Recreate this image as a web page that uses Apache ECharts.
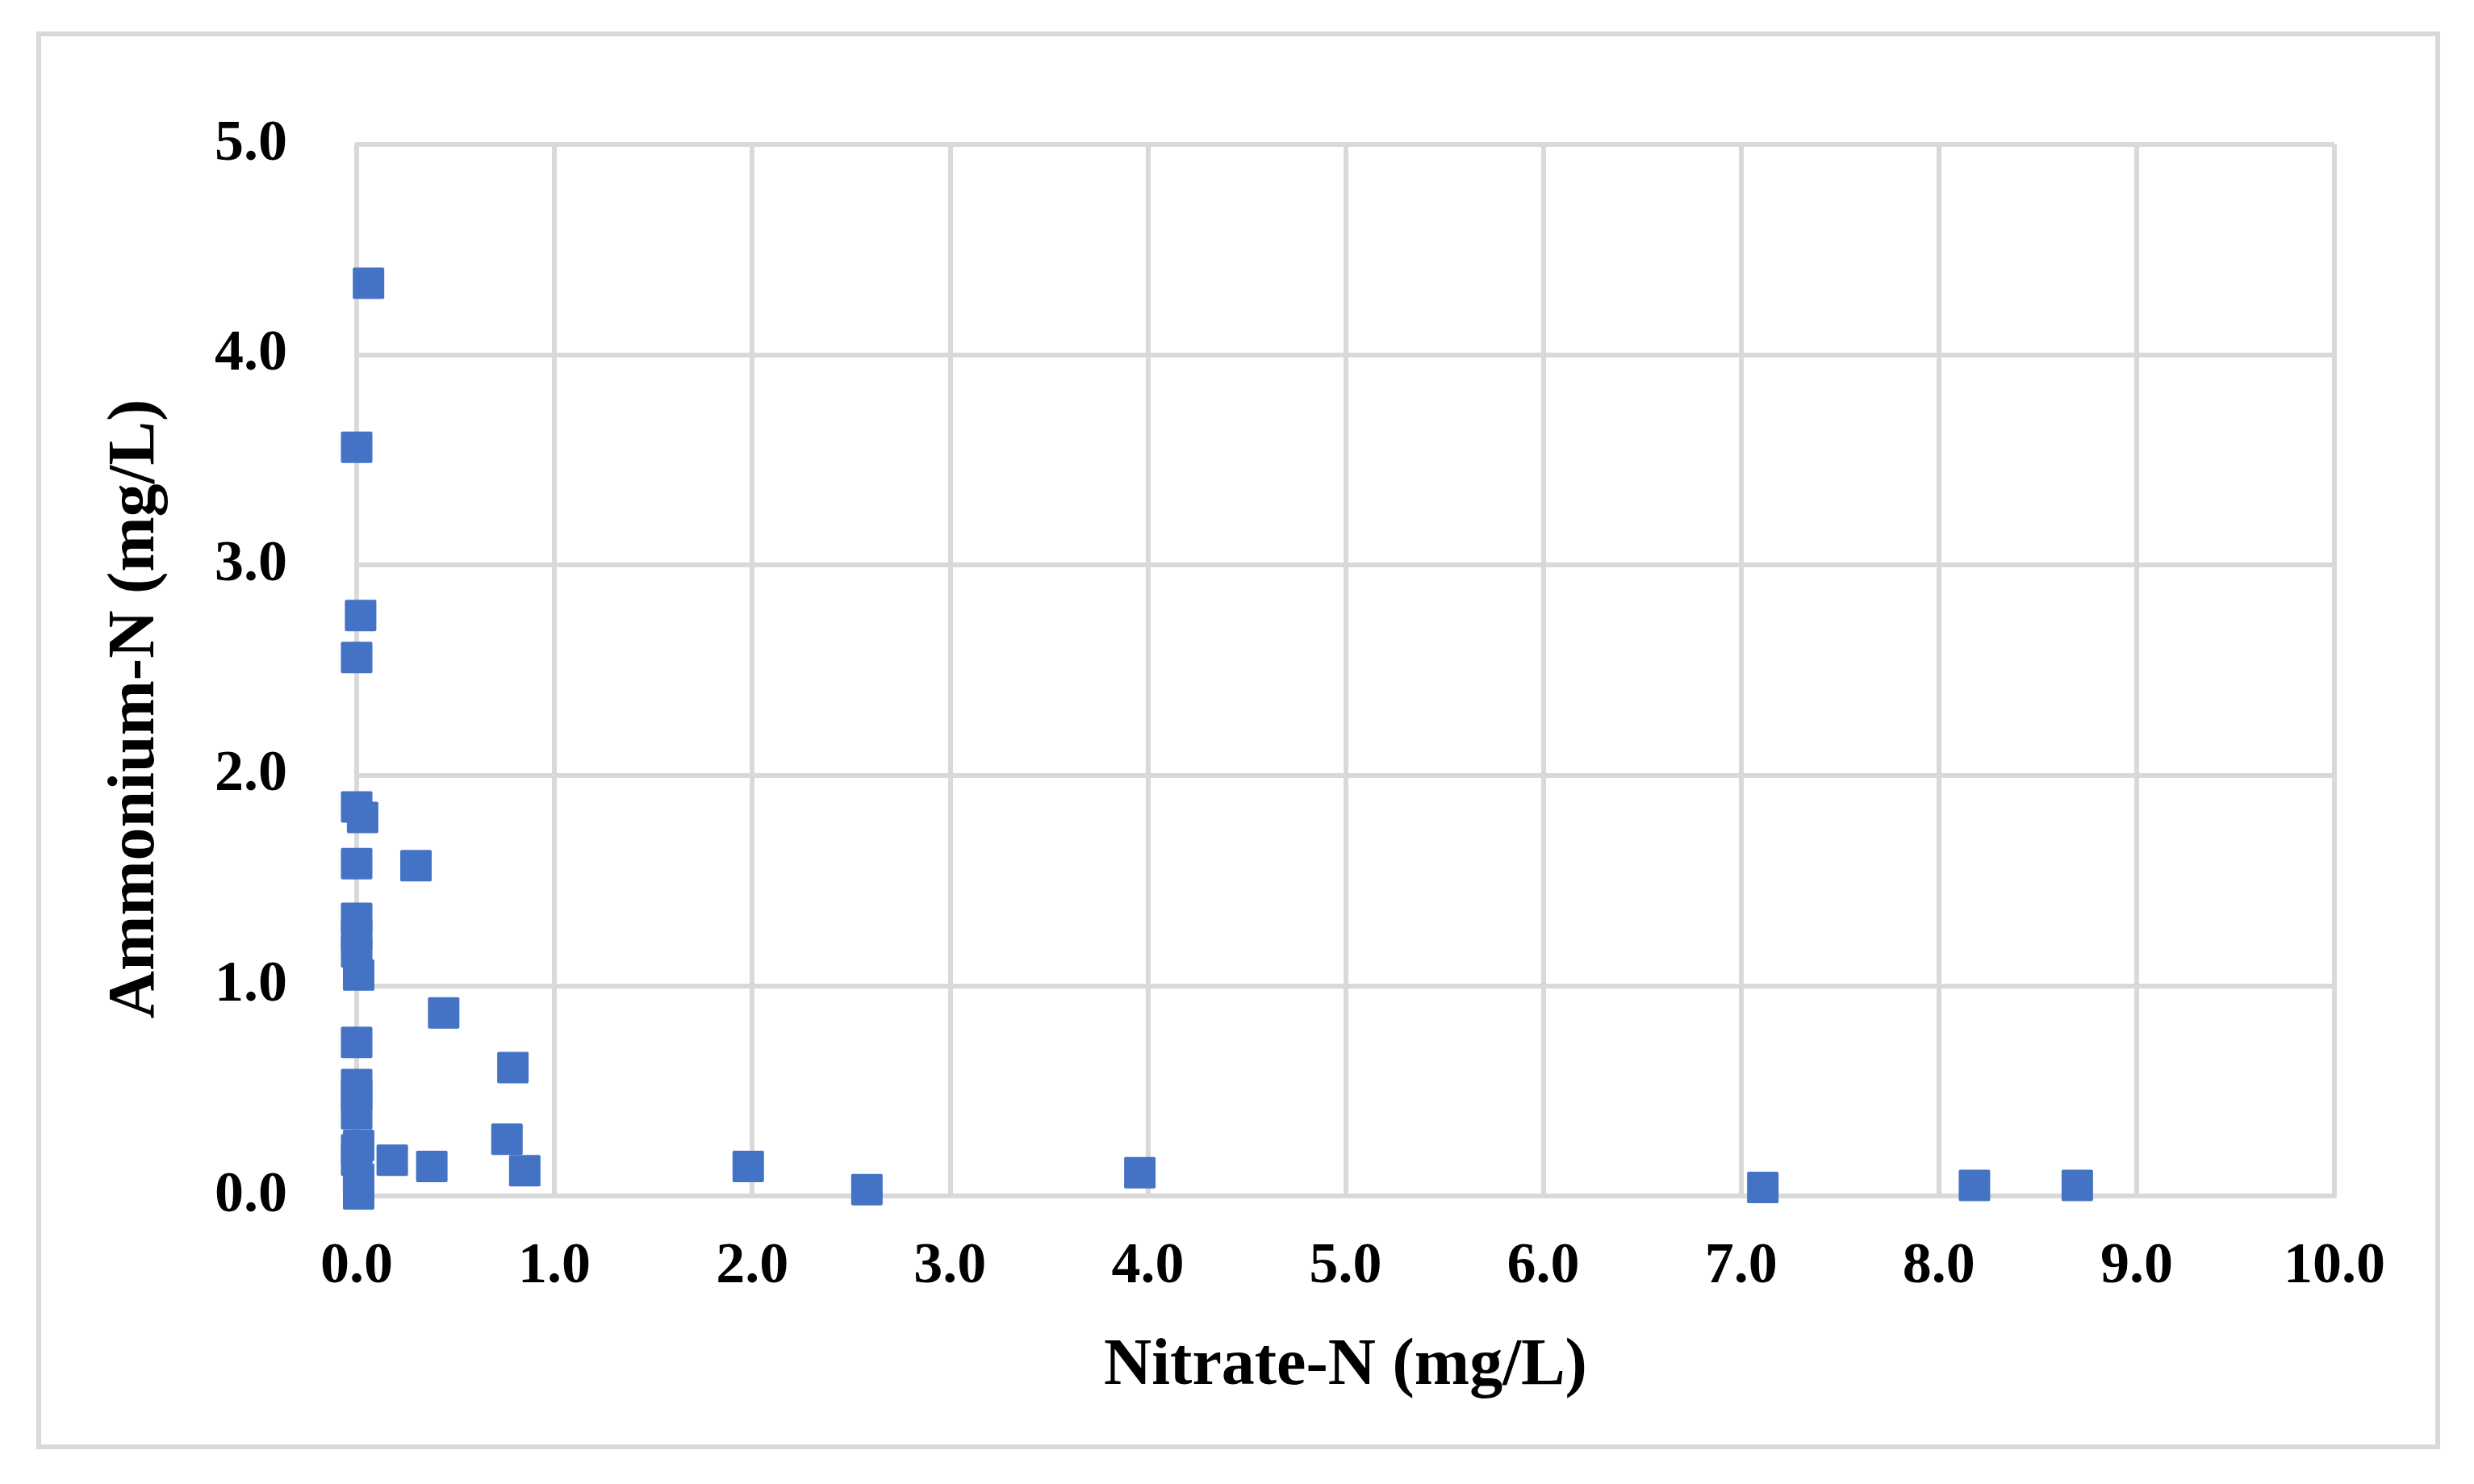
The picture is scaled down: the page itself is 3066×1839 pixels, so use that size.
<!DOCTYPE html>
<html>
<head>
<meta charset="utf-8">
<script src="https://cdn.jsdelivr.net/npm/echarts@6/dist/echarts.min.js"></script>
<style>html,body{margin:0;padding:0;background:#fff;}#c{width:3066px;height:1839px;}</style>
</head>
<body>
<div id="c"></div>
<script>
// Nitrate-N (x) and Ammonium-N (y), mg/L
const nitrateN = [0.06, 0.00, 0.02, 0.00, 0.00, 0.03, 0.00, 0.30, 0.00, 0.00, 0.00, 0.01, 0.44, 0.00, 0.79, 0.00, 0.00, 0.00, 0.01, 0.00, 0.00, 0.01, 0.01, 0.18, 0.38, 0.76, 0.85, 1.98, 2.58, 3.96, 7.11, 8.18, 8.70];
const ammoniumN = [4.34, 3.56, 2.76, 2.56, 1.85, 1.80, 1.58, 1.57, 1.32, 1.24, 1.16, 1.05, 0.87, 0.73, 0.61, 0.53, 0.48, 0.39, 0.24, 0.22, 0.17, 0.08, 0.01, 0.17, 0.14, 0.27, 0.12, 0.14, 0.03, 0.11, 0.04, 0.05, 0.05];
const xAxisTitle = 'Nitrate-N (mg/L)';
const yAxisTitle = 'Ammonium-N (mg/L)';

const points = nitrateN.map((x, i) => [x, ammoniumN[i]]);
const font = 'Liberation Serif';
const grey = '#d9d9d9';

const chart = echarts.init(document.getElementById('c'), null, {renderer: 'canvas'});
chart.setOption({
  animation: false,
  backgroundColor: '#ffffff',
  graphic: [{
    type: 'rect', z: -10,
    shape: {x: 48, y: 42, width: 2973, height: 1751},
    style: {fill: 'none', stroke: grey, lineWidth: 6}
  }],
  grid: {left: 442, right: 173, top: 179, bottom: 357},
  xAxis: {
    type: 'value', min: 0, max: 10, interval: 1,
    name: xAxisTitle, nameLocation: 'middle', nameGap: 171,
    nameTextStyle: {fontFamily: font, fontWeight: 'bold', fontSize: 82, color: '#000'},
    axisLine: {show: true, lineStyle: {color: grey, width: 6}},
    axisTick: {show: false},
    axisLabel: {fontFamily: font, fontWeight: 'bold', fontSize: 72, color: '#000', margin: 52,
      formatter: v => v.toFixed(1)},
    splitLine: {show: true, lineStyle: {color: grey, width: 6}}
  },
  yAxis: {
    type: 'value', min: 0, max: 5, interval: 1,
    name: yAxisTitle, nameLocation: 'middle', nameGap: 232,
    nameTextStyle: {fontFamily: font, fontWeight: 'bold', fontSize: 82, color: '#000', padding: [0, 96, 0, 0]},
    axisLine: {show: true, lineStyle: {color: grey, width: 6}},
    axisTick: {show: false},
    axisLabel: {fontFamily: font, fontWeight: 'bold', fontSize: 72, color: '#000', margin: 86,
      formatter: v => v.toFixed(1)},
    splitLine: {show: true, lineStyle: {color: grey, width: 6}}
  },
  series: [{
    type: 'scatter',
    data: points,
    symbol: 'path://M2 0H38Q40 0 40 2V38Q40 40 38 40H2Q0 40 0 38V2Q0 0 2 0Z',
    symbolSize: 39,
    itemStyle: {color: '#4472C4', opacity: 1}
  }]
});
</script>
</body>
</html>
